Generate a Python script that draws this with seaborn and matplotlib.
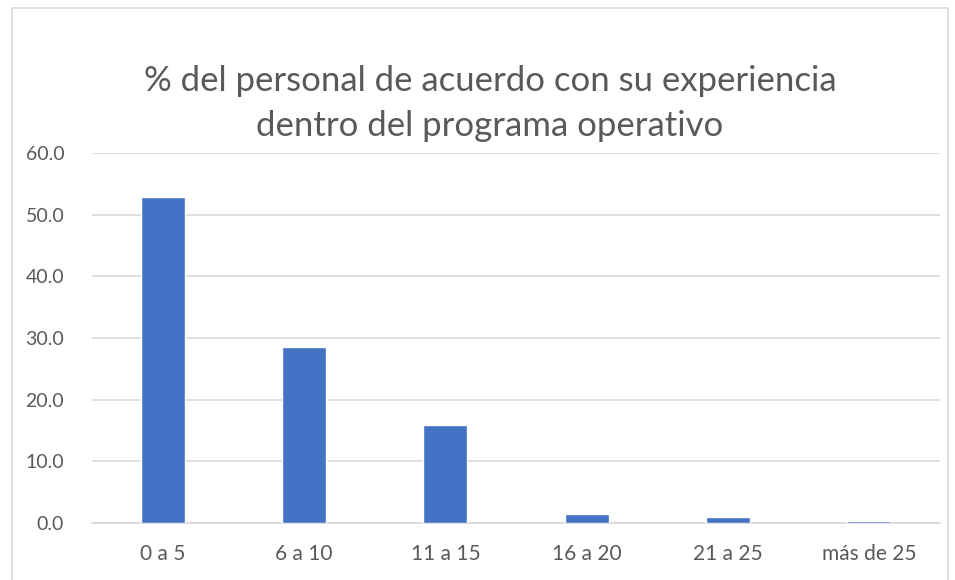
import matplotlib
matplotlib.use("Agg")
import matplotlib.pyplot as plt
import seaborn as sns
import pandas as pd
from matplotlib.patches import Rectangle

# Data
categories = ["0 a 5", "6 a 10", "11 a 15", "16 a 20", "21 a 25", "más de 25"]
percent = [52.8, 28.5, 15.9, 1.5, 0.9, 0.3]
y_ticks = [0, 10, 20, 30, 40, 50, 60]

df = pd.DataFrame({"Experiencia": categories, "Porcentaje": percent})

sns.set_style("white")
plt.rcParams["font.family"] = ["Lato", "DejaVu Sans"]

fig = plt.figure(figsize=(9.55, 5.8), dpi=100)
ax = fig.add_axes([0.0963, 0.0983, 0.888, 0.638])

sns.barplot(data=df, x="Experiencia", y="Porcentaje", color="#4472C4",
            width=0.31, saturation=1, ax=ax, zorder=3)

ax.set_ylim(0, 60)
ax.set_yticks(y_ticks)
ax.set_yticklabels([f"{v:.1f}" for v in y_ticks])
ax.yaxis.grid(True, color="#d9d9d9", linewidth=1.2, zorder=0)
ax.set_axisbelow(True)
for s in ["top", "right", "left"]:
    ax.spines[s].set_visible(False)
ax.spines["bottom"].set_color("#d9d9d9")
ax.spines["bottom"].set_linewidth(1.2)
ax.tick_params(axis="y", length=0, labelsize=14, colors="#595959", pad=20)
ax.tick_params(axis="x", length=0, labelsize=15, colors="#595959", pad=15)
ax.set_xlabel("")
ax.set_ylabel("")

fig.text(0.513, 0.860, "% del personal de acuerdo con su experiencia",
         ha="center", va="center", fontsize=25, color="#595959")
fig.text(0.513, 0.783, "dentro del programa operativo",
         ha="center", va="center", fontsize=25, color="#595959")

# light chart-area border
fig.patches.append(Rectangle((12 / 955, -0.01), 936 / 955, 1 - 8 / 580 + 0.01,
                             transform=fig.transFigure, fill=False,
                             edgecolor="#d9d9d9", linewidth=1.2))

fig.savefig("out.png", dpi=100)
